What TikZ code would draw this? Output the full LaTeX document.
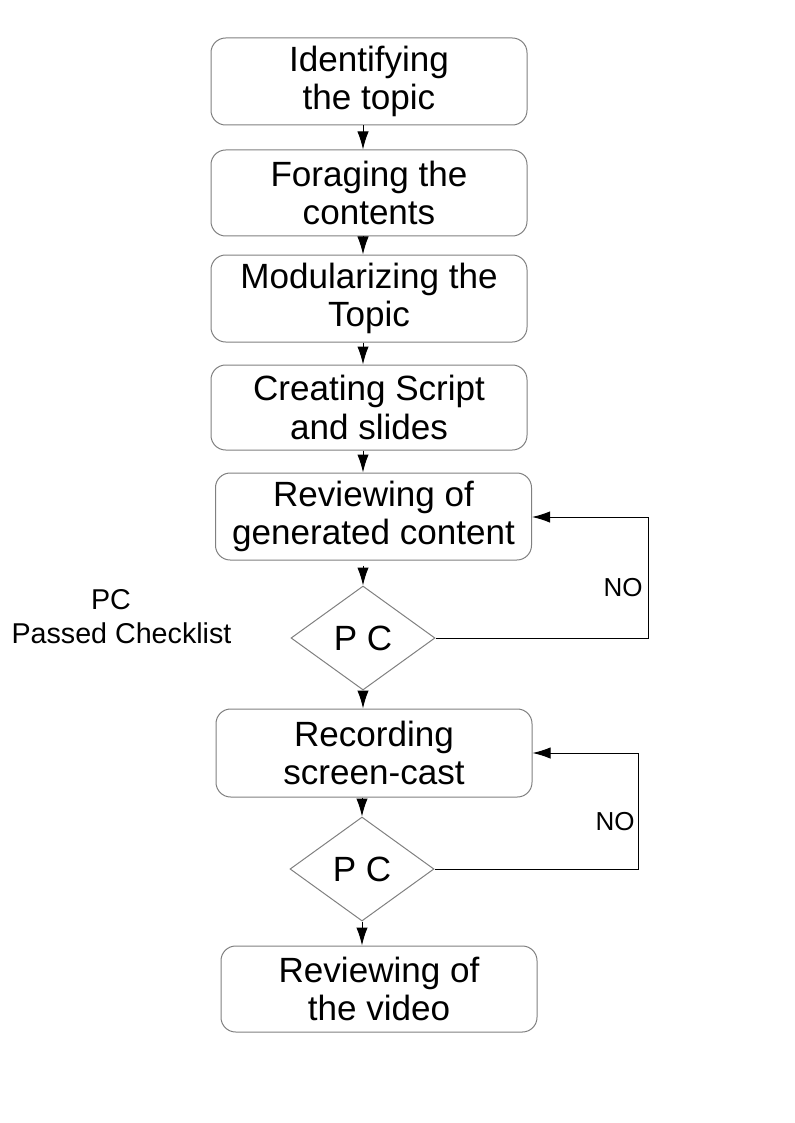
\documentclass[tikz,border=0pt]{standalone}
\usepackage{fontspec}
\setmainfont{Liberation Sans}
\usetikzlibrary{arrows.meta,shapes.geometric}
\begin{document}
\begin{tikzpicture}[x=0.75pt,y=-0.75pt,
  box/.style={draw=black!50,line width=0.75pt,rounded corners=11pt,inner sep=0pt,
    minimum width=237pt,align=center,font=\fontsize{26.3}{28.8}\selectfont},
  dec/.style={draw=black!50,line width=0.75pt,diamond,inner sep=0pt,
    minimum width=108pt,minimum height=78pt,font=\fontsize{26.3}{28.8}\selectfont},
  arr/.style={draw=black,line width=0.75pt,-{Latex[length=13.5pt,width=8.5pt]}},
  lbl/.style={inner sep=0pt,font=\fontsize{19.5}{23}\selectfont},
  note/.style={inner sep=0pt,anchor=base,font=\fontsize{21.5}{25}\selectfont}]
\useasboundingbox (0,0) rectangle (794,1123);
\node[box,minimum height=65.25pt] (b1) at (369,81.5) {Identifying\\the topic};
\node[box,minimum height=64.5pt] (b2) at (369,193) {Foraging the\\contents};
\node[box,minimum height=65.25pt] (b3) at (369,298.5) {Modularizing the\\Topic};
\node[box,minimum height=63.75pt] (b4) at (369,407.5) {Creating Script\\and slides};
\node[box,minimum height=65.25pt] (b5) at (373.5,516.5) {Reviewing of\\generated content};
\node[dec] (d1) at (363,638) {P C};
\node[box,minimum height=66pt] (b6) at (374,753) {Recording\\screen-cast};
\node[dec] (d2) at (362,869) {P C};
\node[box,minimum height=64.5pt] (b7) at (379,989) {Reviewing of\\the video};
\node[note] (pc) at (111,609) {PC};
\node[note] (pcl) at (121.5,643) {Passed Checklist};
\coordinate (c1) at (648,517);
\coordinate (c2) at (638,753);
\node[lbl] (no1) at (623,588) {NO};
\node[lbl] (no2) at (615,822) {NO};
\draw[arr] (b1.south -| d1.north) -- (b2.north -| d1.north);
\draw[arr] (b2.south -| d1.north) -- (b3.north -| d1.north);
\draw[arr] (b3.south -| d1.north) -- (b4.north -| d1.north);
\draw[arr] (b4.south -| d1.north) -- (b5.north -| d1.north);
\draw[arr,shorten <=3.75pt] (b5.south -| d1.north) -- (d1.north);
\draw[arr] (d1.south) -- (b6.north -| d1.south);
\draw[arr] (b6.south -| d2.north) -- (d2.north);
\draw[arr] (d2.south) -- (b7.north -| d2.south);
\draw[arr] (d1.east) -| (c1) -- (b5.east |- c1);
\draw[arr] (d2.east) -| (c2) -- (b6.east);
\end{tikzpicture}
\end{document}
